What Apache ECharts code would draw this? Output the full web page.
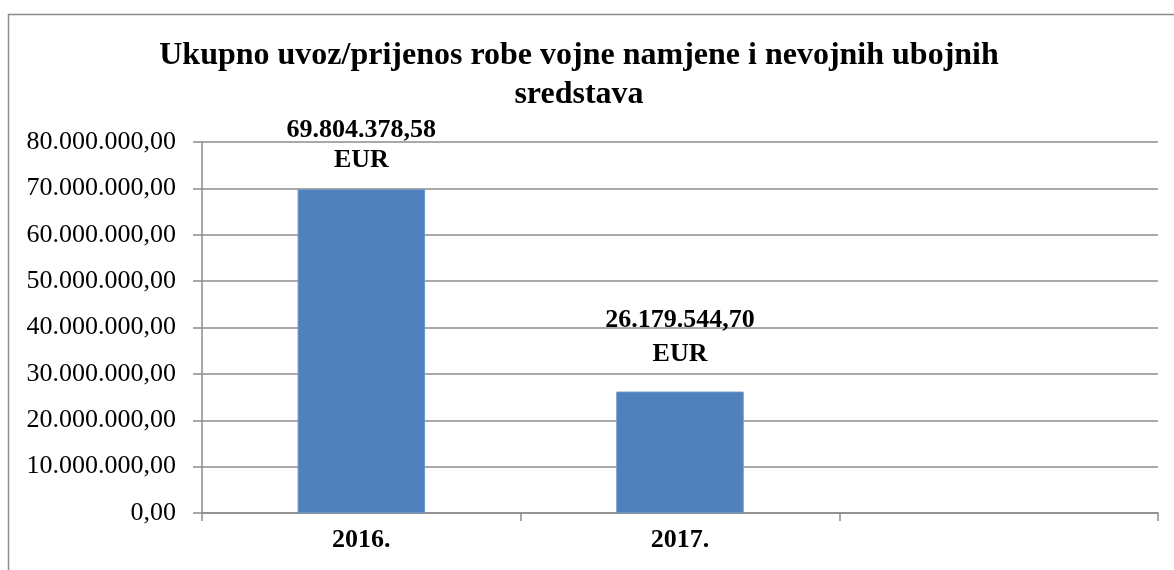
<!DOCTYPE html>
<html>
<head>
<meta charset="utf-8">
<script src="https://cdn.jsdelivr.net/npm/echarts@6/dist/echarts.min.js"></script>
<style>
  html, body { margin: 0; padding: 0; background: #fff; }
  #chart { width: 1174px; height: 570px; }
</style>
</head>
<body>
<div id="chart"></div>
<script>
// Podaci
const godine = ['2016.', '2017.', ''];
const iznosi = [69804378.58, 26179544.70, null];
const yTicks = [0, 80000000, 10000000]; // min, max, interval

const SERIF = '"Liberation Serif", "Times New Roman", serif';
const SIVA = '#8c8c8c';

// 69804378.58 -> "69.804.378,58"
function formatHr(v) {
  const [cijeli, dec] = Number(v).toFixed(2).split('.');
  return cijeli.replace(/\B(?=(\d{3})+(?!\d))/g, '.') + ',' + dec;
}

const chart = echarts.init(document.getElementById('chart'), null, { renderer: 'canvas' });

// razmak oznake od vrha stupca i prored
const razmak = [14, 20];
const prored = [30, 34];

const option = {
  animation: false,
  backgroundColor: '#fff',
  title: {
    text: 'Ukupno uvoz/prijenos robe vojne namjene i nevojnih ubojnih\nsredstava',
    left: 574,
    top: 31,
    textAlign: 'center',
    textStyle: {
      fontFamily: SERIF,
      fontWeight: 'bold',
      fontSize: 32,
      lineHeight: 39,
      color: '#000'
    }
  },
  graphic: [{
    type: 'rect',
    shape: { x: 8.5, y: 14.5, width: 1200, height: 600 },
    style: { fill: 'none', stroke: SIVA, lineWidth: 1.5 },
    silent: true,
    z: -1
  }],
  grid: { left: 202, right: 16, top: 142, bottom: 57 },
  xAxis: {
    type: 'category',
    data: godine,
    axisLine: { lineStyle: { color: SIVA, width: 1.5 } },
    axisTick: { show: true, length: 8, lineStyle: { color: SIVA, width: 1.5 } },
    axisLabel: {
      margin: 14,
      fontFamily: SERIF,
      fontWeight: 'bold',
      fontSize: 26,
      color: '#000'
    }
  },
  yAxis: {
    type: 'value',
    min: yTicks[0],
    max: yTicks[1],
    interval: yTicks[2],
    axisLine: { show: true, lineStyle: { color: SIVA, width: 1.5 } },
    axisTick: { show: true, length: 9, lineStyle: { color: SIVA, width: 1.5 } },
    splitLine: { lineStyle: { color: SIVA, width: 1.5 } },
    axisLabel: {
      margin: 26,
      fontFamily: SERIF,
      fontSize: 26,
      color: '#000',
      formatter: (v) => formatHr(v)
    }
  },
  series: [{
    type: 'bar',
    barWidth: '40%',
    data: iznosi.map((v, i) => ({
      value: v,
      label: { distance: razmak[i] || 10, lineHeight: prored[i] || 30 }
    })),
    itemStyle: { color: '#4F81BD', borderColor: '#6a96c9', borderWidth: 1 },
    label: {
      show: true,
      position: 'top',
      fontFamily: SERIF,
      fontWeight: 'bold',
      fontSize: 26,
      color: '#000',
      formatter: (p) => p.value == null ? '' : formatHr(p.value) + '\nEUR'
    }
  }]
};

chart.setOption(option);
</script>
</body>
</html>
